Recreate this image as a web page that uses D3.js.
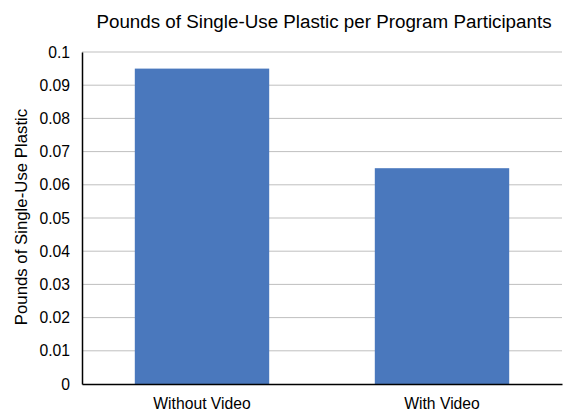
<!DOCTYPE html>
<html>
<head>
<meta charset="utf-8">
<script src="https://cdn.jsdelivr.net/npm/d3@7"></script>
<style>
  body { margin: 0; background: #fff; }
  text { font-family: "Liberation Sans", Arial, sans-serif; fill: #000; }
</style>
</head>
<body>
<div id="chart"></div>
<script>
const categories = ["Without Video", "With Video"];
const values = [0.095, 0.065];
const yTicks = [0, 0.01, 0.02, 0.03, 0.04, 0.05, 0.06, 0.07, 0.08, 0.09, 0.1];
const title = "Pounds of Single-Use Plastic per Program Participants";
const yLabel = "Pounds of Single-Use Plastic";

let width = 578, height = 413;
let margin = {top: 52, right: 16, bottom: 29, left: 82};

const svg = d3.select("#chart").append("svg")
    .attr("width", width).attr("height", height);

let x = d3.scaleBand().domain(categories)
    .range([margin.left, width - margin.right])
    .paddingInner(0.44).paddingOuter(0.22);
let y = d3.scaleLinear().domain([0, 0.1])
    .range([height - margin.bottom, margin.top]);

// gridlines
svg.append("g")
    .selectAll("line")
    .data(yTicks.slice(1))
    .join("line")
    .attr("x1", margin.left).attr("x2", width - margin.right)
    .attr("y1", d => y(d)).attr("y2", d => y(d))
    .attr("stroke", "#bfbfbf").attr("stroke-width", 1);

// bars
svg.append("g")
    .selectAll("rect")
    .data(values)
    .join("rect")
    .attr("x", (d, i) => x(categories[i]))
    .attr("width", x.bandwidth())
    .attr("y", d => y(d))
    .attr("height", d => y(0) - y(d))
    .attr("fill", "#4a78bd");

// y axis
let yAxis = d3.axisLeft(y).tickValues(yTicks).tickSize(0).tickPadding(12)
    .tickFormat(d => d3.format("")(+d.toFixed(2)));
let gy = svg.append("g").attr("transform", `translate(${margin.left},0)`).call(yAxis);
gy.select(".domain").attr("stroke", "#000").attr("stroke-width", 1.5);
gy.selectAll("text").style("font-size", "15.7px").attr("fill", "#000");

// x axis
let xAxis = d3.axisBottom(x).tickSize(0).tickPadding(14);
let gx = svg.append("g").attr("transform", `translate(0,${y(0)})`).call(xAxis);
gx.select(".domain").attr("stroke", "#000").attr("stroke-width", 1.5);
gx.selectAll("text").style("font-size", "15.7px").attr("fill", "#000");

// title
svg.append("text")
    .attr("x", 324).attr("y", 28)
    .attr("text-anchor", "middle")
    .style("font-size", "18.8px")
    .text(title);

// y label
svg.append("text")
    .attr("transform", `translate(27,217) rotate(-90)`)
    .attr("text-anchor", "middle")
    .style("font-size", "16.8px")
    .text(yLabel);
</script>
</body>
</html>
